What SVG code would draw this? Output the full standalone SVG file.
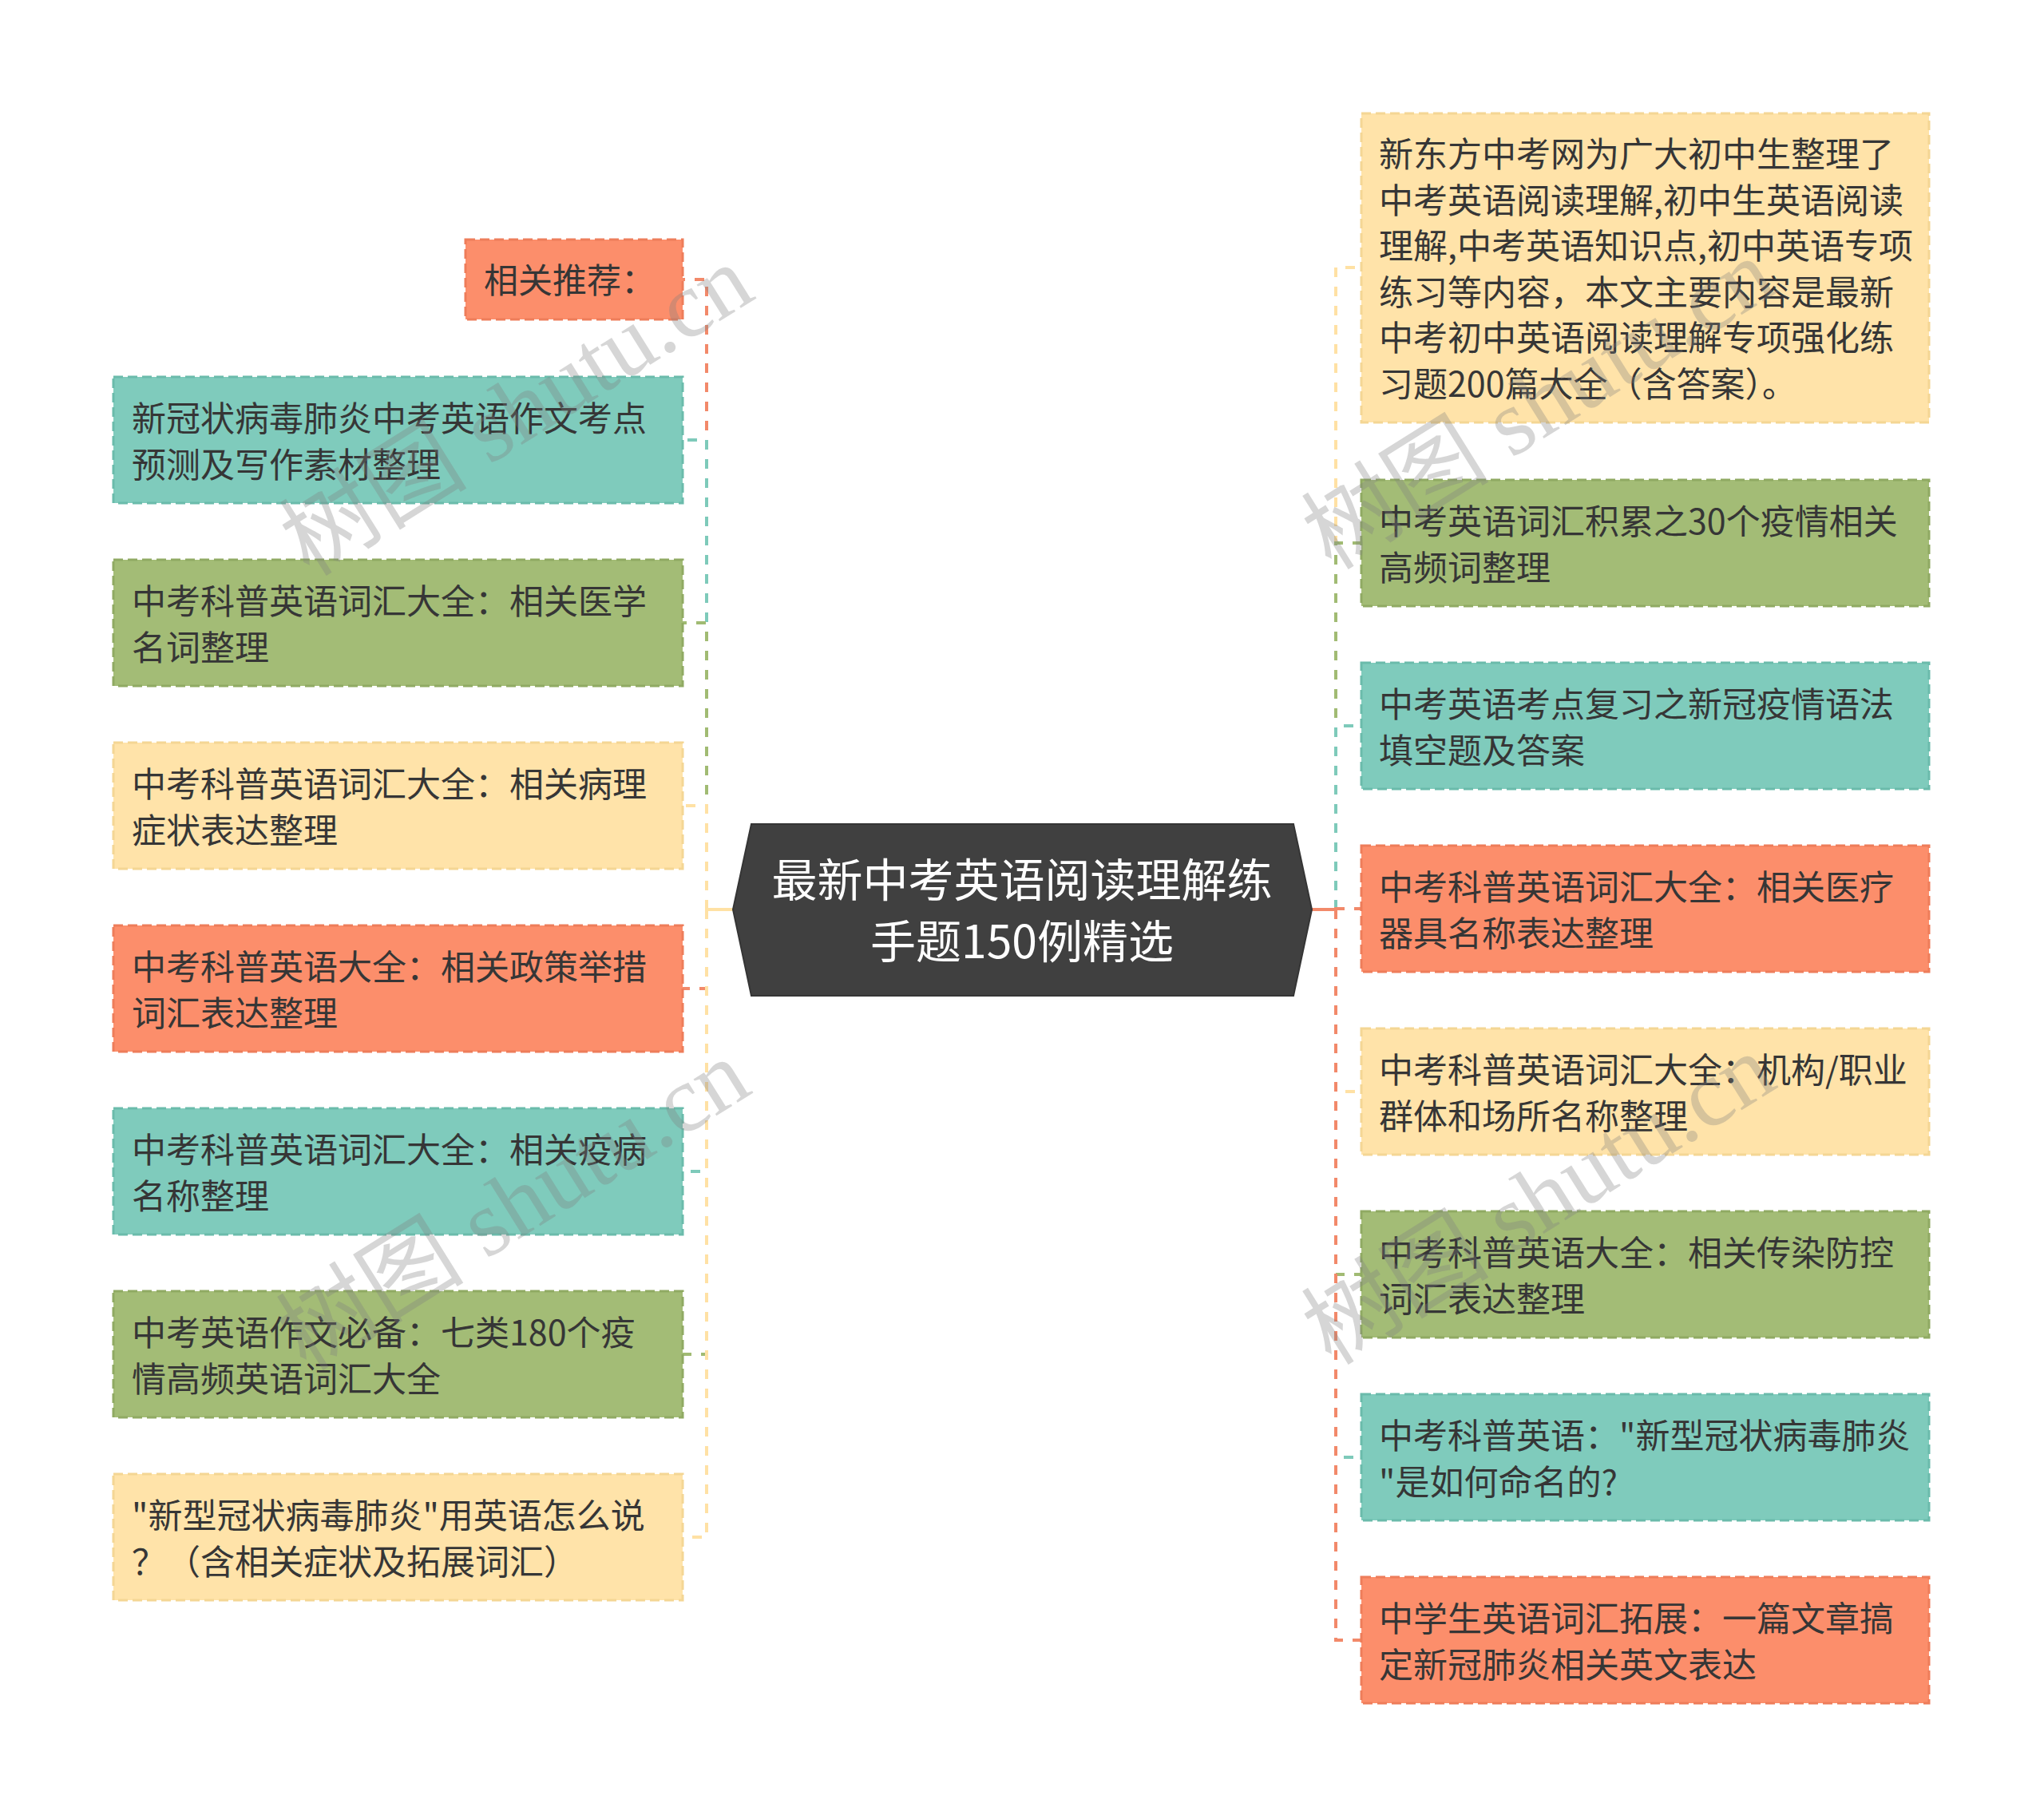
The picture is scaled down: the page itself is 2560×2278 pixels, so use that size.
<svg xmlns="http://www.w3.org/2000/svg" width="2560" height="2278" viewBox="0 0 2560 2278">
<style>
.box{stroke-width:3;stroke-dasharray:12 6}
.o{fill:#FC8E6B;stroke:#EE7D5A}
.t{fill:#7FCBBC;stroke:#6BBBAB}
.g{fill:#A3BC76;stroke:#90AA63}
.y{fill:#FFE3A9;stroke:#F4D694}
.lbl{font-family:"Noto Sans CJK SC","Noto Sans",sans-serif;font-size:43px;fill:#363636}
.root{font-family:"Noto Sans CJK SC","Noto Sans",sans-serif;font-size:57px;fill:#FFFFFF;text-anchor:middle}
.c{fill:none;stroke-width:4;stroke-dasharray:12 12}
.co{stroke:#F2896A}.ct{stroke:#7ECABA}.cg{stroke:#A1BB73}.cy{stroke:#FFE1A4}
.wm{font-family:"Liberation Serif","Noto Sans CJK SC",serif;font-size:118px;fill:#808080;fill-opacity:0.32;text-anchor:middle}
</style>
<rect width="2560" height="2278" fill="#FFFFFF"/>
<g id="connectors">
<line x1="918" y1="1139" x2="885" y2="1139" stroke="#FFE1A4" stroke-width="4"/>
<line x1="1643" y1="1139" x2="1673" y2="1139" stroke="#F2896A" stroke-width="4"/>
<path class="c co" d="M885,1139 V350 H855"/>
<path class="c ct" d="M885,1139 V551 H855"/>
<path class="c cg" d="M885,1139 V780 H855"/>
<path class="c cy" d="M885,1139 V1009 H855"/>
<path class="c co" d="M885,1139 V1238 H855"/>
<path class="c ct" d="M885,1139 V1467 H855"/>
<path class="c cg" d="M885,1139 V1696 H855"/>
<path class="c cy" d="M885,1139 V1925 H855"/>
<path class="c cy" d="M1673,1139 V335 H1705"/>
<path class="c cg" d="M1673,1139 V680 H1705"/>
<path class="c ct" d="M1673,1139 V909 H1705"/>
<path class="c co" d="M1673,1139 V1138 H1705"/>
<path class="c cy" d="M1673,1139 V1367 H1705"/>
<path class="c cg" d="M1673,1139 V1596 H1705"/>
<path class="c ct" d="M1673,1139 V1825 H1705"/>
<path class="c co" d="M1673,1139 V2054 H1705"/>
</g>
<g id="root">
<polygon points="941,1032 1620,1032 1643,1139 1620,1247 941,1247 918,1139" fill="#404040" stroke="#353535" stroke-width="2"/>
<text class="root" x="1280" y="1123">最新中考英语阅读理解练</text>
<text class="root" x="1280" y="1200">手题150例精选</text>
</g>
<g id="L0"><rect class="box o" x="583" y="300" width="272" height="100"/><text class="lbl" x="606" y="367">相关推荐：</text></g>
<g id="L1"><rect class="box t" x="142" y="472" width="713" height="158"/><text class="lbl" x="165" y="540">新冠状病毒肺炎中考英语作文考点</text><text class="lbl" x="165" y="598">预测及写作素材整理</text></g>
<g id="L2"><rect class="box g" x="142" y="701" width="713" height="158"/><text class="lbl" x="165" y="769">中考科普英语词汇大全：相关医学</text><text class="lbl" x="165" y="827">名词整理</text></g>
<g id="L3"><rect class="box y" x="142" y="930" width="713" height="158"/><text class="lbl" x="165" y="998">中考科普英语词汇大全：相关病理</text><text class="lbl" x="165" y="1056">症状表达整理</text></g>
<g id="L4"><rect class="box o" x="142" y="1159" width="713" height="158"/><text class="lbl" x="165" y="1227">中考科普英语大全：相关政策举措</text><text class="lbl" x="165" y="1285">词汇表达整理</text></g>
<g id="L5"><rect class="box t" x="142" y="1388" width="713" height="158"/><text class="lbl" x="165" y="1456">中考科普英语词汇大全：相关疫病</text><text class="lbl" x="165" y="1514">名称整理</text></g>
<g id="L6"><rect class="box g" x="142" y="1617" width="713" height="158"/><text class="lbl" x="165" y="1685">中考英语作文必备：七类180个疫</text><text class="lbl" x="165" y="1743">情高频英语词汇大全</text></g>
<g id="L7"><rect class="box y" x="142" y="1846" width="713" height="158"/><text class="lbl" x="165" y="1914">"新型冠状病毒肺炎"用英语怎么说</text><text class="lbl" x="165" y="1972">？（含相关症状及拓展词汇）</text></g>
<g id="R0"><rect class="box y" x="1705" y="142" width="711" height="387"/>
<text class="lbl" x="1727" y="209">新东方中考网为广大初中生整理了</text>
<text class="lbl" x="1727" y="267">中考英语阅读理解,初中生英语阅读</text>
<text class="lbl" x="1727" y="324">理解,中考英语知识点,初中英语专项</text>
<text class="lbl" x="1727" y="382">练习等内容，本文主要内容是最新</text>
<text class="lbl" x="1727" y="439">中考初中英语阅读理解专项强化练</text>
<text class="lbl" x="1727" y="497">习题200篇大全（含答案）。</text></g>
<g id="R1"><rect class="box g" x="1705" y="601" width="711" height="158"/><text class="lbl" x="1727" y="669">中考英语词汇积累之30个疫情相关</text><text class="lbl" x="1727" y="727">高频词整理</text></g>
<g id="R2"><rect class="box t" x="1705" y="830" width="711" height="158"/><text class="lbl" x="1727" y="898">中考英语考点复习之新冠疫情语法</text><text class="lbl" x="1727" y="956">填空题及答案</text></g>
<g id="R3"><rect class="box o" x="1705" y="1059" width="711" height="158"/><text class="lbl" x="1727" y="1127">中考科普英语词汇大全：相关医疗</text><text class="lbl" x="1727" y="1185">器具名称表达整理</text></g>
<g id="R4"><rect class="box y" x="1705" y="1288" width="711" height="158"/><text class="lbl" x="1727" y="1356">中考科普英语词汇大全：机构/职业</text><text class="lbl" x="1727" y="1414">群体和场所名称整理</text></g>
<g id="R5"><rect class="box g" x="1705" y="1517" width="711" height="158"/><text class="lbl" x="1727" y="1585">中考科普英语大全：相关传染防控</text><text class="lbl" x="1727" y="1643">词汇表达整理</text></g>
<g id="R6"><rect class="box t" x="1705" y="1746" width="711" height="158"/><text class="lbl" x="1727" y="1814">中考科普英语："新型冠状病毒肺炎</text><text class="lbl" x="1727" y="1872">"是如何命名的?</text></g>
<g id="R7"><rect class="box o" x="1705" y="1975" width="711" height="158"/><text class="lbl" x="1727" y="2043">中学生英语词汇拓展：一篇文章搞</text><text class="lbl" x="1727" y="2101">定新冠肺炎相关英文表达</text></g>
<g id="watermarks">
<text class="wm" transform="translate(647,514) rotate(-32)" y="40">树图 shutu.cn</text>
<text class="wm" transform="translate(643,1509) rotate(-32)" y="40">树图 shutu.cn</text>
<text class="wm" transform="translate(1927,506) rotate(-32)" y="40">树图 shutu.cn</text>
<text class="wm" transform="translate(1927,1502) rotate(-32)" y="40">树图 shutu.cn</text>
</g>
</svg>
